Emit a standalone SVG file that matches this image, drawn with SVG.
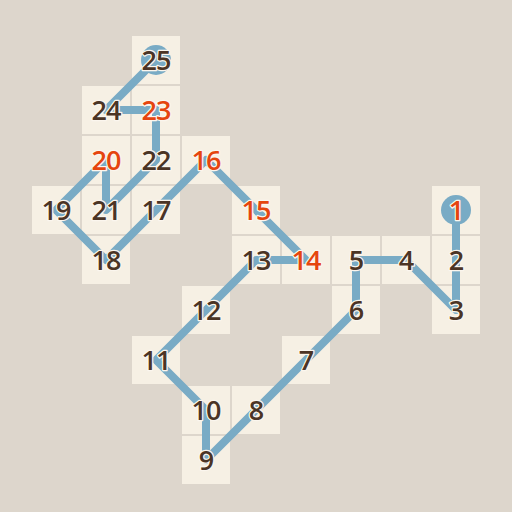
<svg xmlns="http://www.w3.org/2000/svg" width="512" height="512" viewBox="0 0 512 512">
<style>
.c{fill:#f6f0e4}
.n text{font-family:"Open Sans","DejaVu Sans",sans-serif;font-weight:600;font-size:27px;letter-spacing:-1px;text-anchor:middle;fill:#4b3425;stroke:#fbf6ee;stroke-width:2.5;paint-order:stroke;stroke-linejoin:round}
.n text.g{fill:#e5450f}
.l{fill:none;stroke:#79abc5;stroke-width:8;stroke-linejoin:round}
.e{fill:#79abc5}
</style>
<rect width="512" height="512" fill="#ddd6cc"/>
<g id="cells">
<rect class="c" x="432" y="186" width="48" height="48"/>
<rect class="c" x="432" y="236" width="48" height="48"/>
<rect class="c" x="432" y="286" width="48" height="48"/>
<rect class="c" x="382" y="236" width="48" height="48"/>
<rect class="c" x="332" y="236" width="48" height="48"/>
<rect class="c" x="332" y="286" width="48" height="48"/>
<rect class="c" x="282" y="336" width="48" height="48"/>
<rect class="c" x="232" y="386" width="48" height="48"/>
<rect class="c" x="182" y="436" width="48" height="48"/>
<rect class="c" x="182" y="386" width="48" height="48"/>
<rect class="c" x="132" y="336" width="48" height="48"/>
<rect class="c" x="182" y="286" width="48" height="48"/>
<rect class="c" x="232" y="236" width="48" height="48"/>
<rect class="c" x="282" y="236" width="48" height="48"/>
<rect class="c" x="232" y="186" width="48" height="48"/>
<rect class="c" x="182" y="136" width="48" height="48"/>
<rect class="c" x="132" y="186" width="48" height="48"/>
<rect class="c" x="82" y="236" width="48" height="48"/>
<rect class="c" x="32" y="186" width="48" height="48"/>
<rect class="c" x="82" y="136" width="48" height="48"/>
<rect class="c" x="82" y="186" width="48" height="48"/>
<rect class="c" x="132" y="136" width="48" height="48"/>
<rect class="c" x="132" y="86" width="48" height="48"/>
<rect class="c" x="82" y="86" width="48" height="48"/>
<rect class="c" x="132" y="36" width="48" height="48"/>
</g>
<g id="connectors">
<circle class="e" cx="456" cy="210" r="15"/>
<circle class="e" cx="156" cy="60" r="15"/>
<polyline class="l" points="456,210 456,260 456,310 406,260 356,260 356,310 306,360 256,410 206,460 206,410 156,360 206,310 256,260 306,260 256,210 206,160 156,210 106,260 56,210 106,160 106,210 156,160 156,110 106,110 156,60"/>
</g>
<g class="n">
<g id="n1"><text class="g" x="456" y="220">1</text></g>
<g id="n2"><text x="456" y="270">2</text></g>
<g id="n3"><text x="456" y="320">3</text></g>
<g id="n4"><text x="406" y="270">4</text></g>
<g id="n5"><text x="356" y="270">5</text></g>
<g id="n6"><text x="356" y="320">6</text></g>
<g id="n7"><text x="306" y="370">7</text></g>
<g id="n8"><text x="256" y="420">8</text></g>
<g id="n9"><text x="206" y="470">9</text></g>
<g id="n10"><text x="206" y="420">10</text></g>
<g id="n11"><text x="156" y="370">11</text></g>
<g id="n12"><text x="206" y="320">12</text></g>
<g id="n13"><text x="256" y="270">13</text></g>
<g id="n14"><text class="g" x="306" y="270">14</text></g>
<g id="n15"><text class="g" x="256" y="220">15</text></g>
<g id="n16"><text class="g" x="206" y="170">16</text></g>
<g id="n17"><text x="156" y="220">17</text></g>
<g id="n18"><text x="106" y="270">18</text></g>
<g id="n19"><text x="56" y="220">19</text></g>
<g id="n20"><text class="g" x="106" y="170">20</text></g>
<g id="n21"><text x="106" y="220">21</text></g>
<g id="n22"><text x="156" y="170">22</text></g>
<g id="n23"><text class="g" x="156" y="120">23</text></g>
<g id="n24"><text x="106" y="120">24</text></g>
<g id="n25"><text x="156" y="70">25</text></g>
</g>
</svg>
